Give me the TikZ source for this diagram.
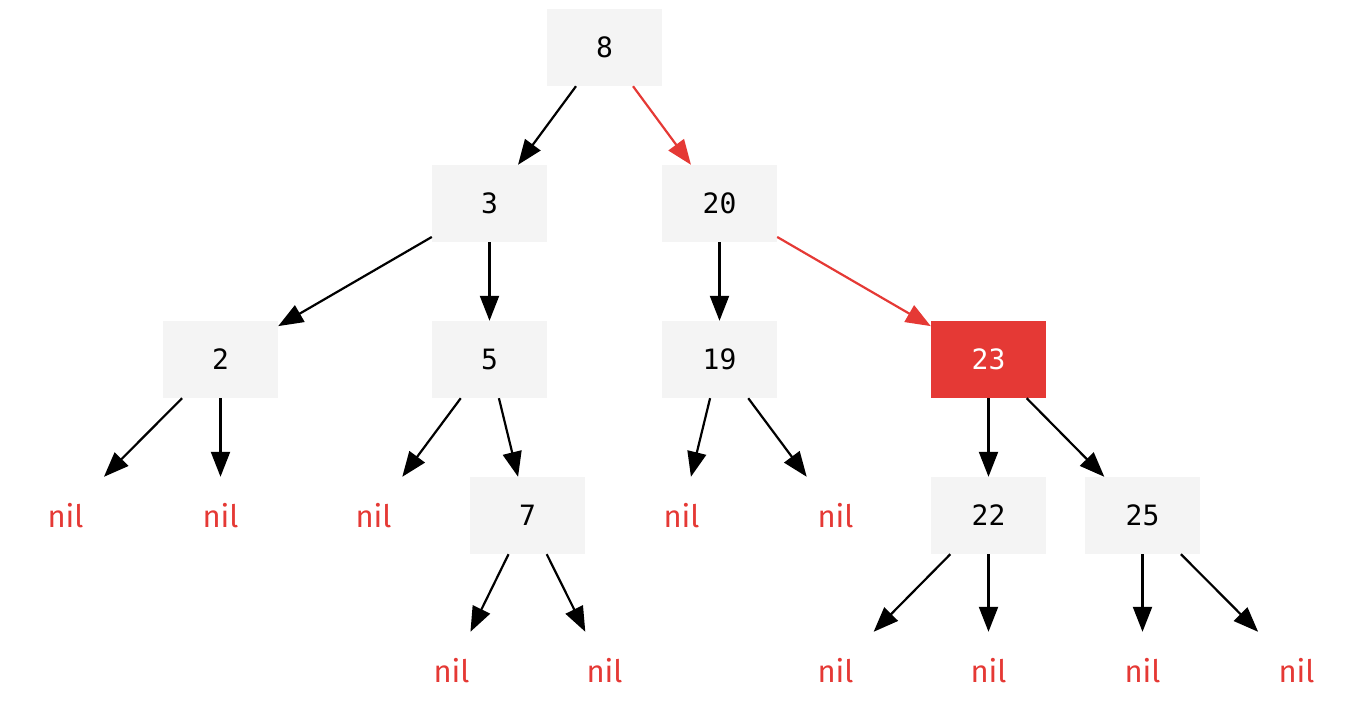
\documentclass[tikz,border=0pt]{standalone}
\usepackage{fontspec}
\usetikzlibrary{arrows.meta}
\newfontfamily\numfont{DejaVu Sans Mono}
\newfontfamily\nilfont{Fira Sans}
\definecolor{boxgray}{HTML}{F4F4F4}
\definecolor{hred}{HTML}{E53935}
\tikzset{
  nd/.style={rectangle, minimum width=115pt, minimum height=77pt, inner sep=0pt, font=\numfont\fontsize{28}{32}\selectfont},
  box/.style={nd, fill=boxgray, text=black},
  redbox/.style={nd, fill=hred, text=white},
  nilnode/.style={nd, text=hred, font=\nilfont\fontsize{31}{35}\selectfont},
  edge/.style={line width=2.2pt, -{Triangle[length=25pt,width=19pt]}},
  redge/.style={edge, draw=hred, color=hred}
}
\begin{document}
\begin{tikzpicture}[x=1pt,y=-1pt]
\useasboundingbox (0,0) rectangle (1363,720);
\node[box] (n8) at (604.5,47.5) {8};
\node[box] (n3) at (489.5,203.5) {3};
\node[box] (n20) at (719.5,203.5) {20};
\node[box] (n2) at (220.5,359.5) {2};
\node[box] (n5) at (489.5,359.5) {5};
\node[box] (n19) at (719.5,359.5) {19};
\node[redbox] (n23) at (988.5,359.5) {23};
\node[box] (n7) at (527.5,515.5) {7};
\node[box] (n22) at (988.5,515.5) {22};
\node[box] (n25) at (1142.5,515.5) {25};
\node[nilnode] (a1) at (65.5,515.5) {nil};
\node[nilnode] (a2) at (220.5,515.5) {nil};
\node[nilnode] (a3) at (373.5,515.5) {nil};
\node[nilnode] (a4) at (681.5,515.5) {nil};
\node[nilnode] (a5) at (835.5,515.5) {nil};
\node[nilnode] (b1) at (451.5,670.5) {nil};
\node[nilnode] (b2) at (604.5,670.5) {nil};
\node[nilnode] (b3) at (835.5,670.5) {nil};
\node[nilnode] (b4) at (988.5,670.5) {nil};
\node[nilnode] (b5) at (1142.5,670.5) {nil};
\node[nilnode] (b6) at (1296.5,670.5) {nil};
\draw[edge] (n8) -- (n3);
\draw[redge] (n8) -- (n20);
\draw[edge] (n3) -- (n2);
\draw[edge] (n3) -- (n5);
\draw[edge] (n20) -- (n19);
\draw[redge] (n20) -- (n23);
\draw[edge] (n2) -- (a1);
\draw[edge] (n2) -- (a2);
\draw[edge] (n5) -- (a3);
\draw[edge] (n5) -- (n7);
\draw[edge] (n19) -- (a4);
\draw[edge] (n19) -- (a5);
\draw[edge] (n23) -- (n22);
\draw[edge] (n23) -- (n25);
\draw[edge] (n7) -- (b1);
\draw[edge] (n7) -- (b2);
\draw[edge] (n22) -- (b3);
\draw[edge] (n22) -- (b4);
\draw[edge] (n25) -- (b5);
\draw[edge] (n25) -- (b6);
\end{tikzpicture}
\end{document}
